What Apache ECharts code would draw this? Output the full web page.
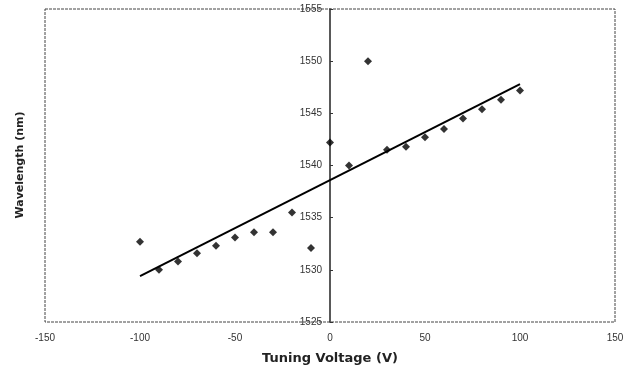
<!DOCTYPE html>
<html>
<head>
<meta charset="utf-8">
<script src="https://cdn.jsdelivr.net/npm/echarts@6/dist/echarts.min.js"></script>
<style>html,body{margin:0;padding:0;background:#fff;}#c{width:638px;height:369px;}</style>
</head>
<body>
<div id="c"></div>
<script>
var voltages = [-100, -90, -80, -70, -60, -50, -40, -30, -20, -10, 0, 10, 20, 30, 40, 50, 60, 70, 80, 90, 100];
var wavelengths = [1532.7, 1530.0, 1530.8, 1531.6, 1532.3, 1533.1, 1533.6, 1533.6, 1535.5, 1532.1, 1542.2, 1540.0, 1550.0, 1541.5, 1541.8, 1542.7, 1543.5, 1544.5, 1545.4, 1546.3, 1547.2];
var trendX = [-100, 100];
var trendY = [1529.4, 1547.8];
var xTicks = [-150, -100, -50, 0, 50, 100, 150];
var yTicks = [1525, 1530, 1535, 1540, 1545, 1550, 1555];
var xTitle = 'Tuning Voltage (V)';
var yTitle = 'Wavelength (nm)';

var pts = voltages.map(function (v, i) { return [v, wavelengths[i]]; });
var trend = trendX.map(function (v, i) { return [v, trendY[i]]; });

var W = 638, H = 369;
var G = {left: 45, top: 9, right: 23, bottom: 47};
var gridW = W - G.left - G.right;
// y axis drawn where x = 0
var zeroOffset = -gridW * (0 - xTicks[0]) / (xTicks[xTicks.length - 1] - xTicks[0]);

var chart = echarts.init(document.getElementById('c'), null, {renderer: 'canvas'});
chart.setOption({
  animation: false,
  backgroundColor: '#fff',
  grid: {
    left: G.left, top: G.top, right: G.right, bottom: G.bottom,
    containLabel: false,
    outerBoundsMode: 'none',
    show: true, borderColor: '#444', borderWidth: 1, borderType: [3, 1]
  },
  graphic: [{
    type: 'text',
    rotation: Math.PI / 2,
    x: 20, y: 165,
    style: {
      text: yTitle, fill: '#222',
      font: 'bold 11px "DejaVu Sans"',
      align: 'center', verticalAlign: 'middle'
    }
  }],
  xAxis: {
    type: 'value',
    min: xTicks[0], max: xTicks[xTicks.length - 1], interval: 50,
    name: xTitle,
    nameLocation: 'middle', nameGap: 30,
    nameTextStyle: {fontFamily: 'DejaVu Sans', fontWeight: 'bold', fontSize: 13, color: '#222'},
    axisLine: {show: false, onZero: false},
    axisTick: {show: false},
    splitLine: {show: false},
    axisLabel: {fontFamily: 'Liberation Sans', fontSize: 10, color: '#333', margin: 11,
      formatter: function (v) { return String(v); }}
  },
  yAxis: {
    type: 'value',
    position: 'left',
    offset: zeroOffset,
    min: yTicks[0], max: yTicks[yTicks.length - 1], interval: 5,
    axisLine: {show: true, onZero: false, lineStyle: {color: '#222', width: 1.5}},
    axisTick: {show: true, inside: true, length: 3, lineStyle: {color: '#333'}},
    splitLine: {show: false},
    axisLabel: {fontFamily: 'Liberation Sans', fontSize: 10, color: '#333', margin: 8,
      formatter: function (v) { return String(v); }}
  },
  series: [
    {
      type: 'line',
      data: trend,
      showSymbol: false,
      lineStyle: {color: '#000', width: 2},
      z: 2
    },
    {
      type: 'scatter',
      data: pts,
      symbol: 'diamond',
      symbolSize: [8, 8],
      itemStyle: {color: '#000'},
      z: 3
    }
  ]
});
</script>
</body>
</html>
